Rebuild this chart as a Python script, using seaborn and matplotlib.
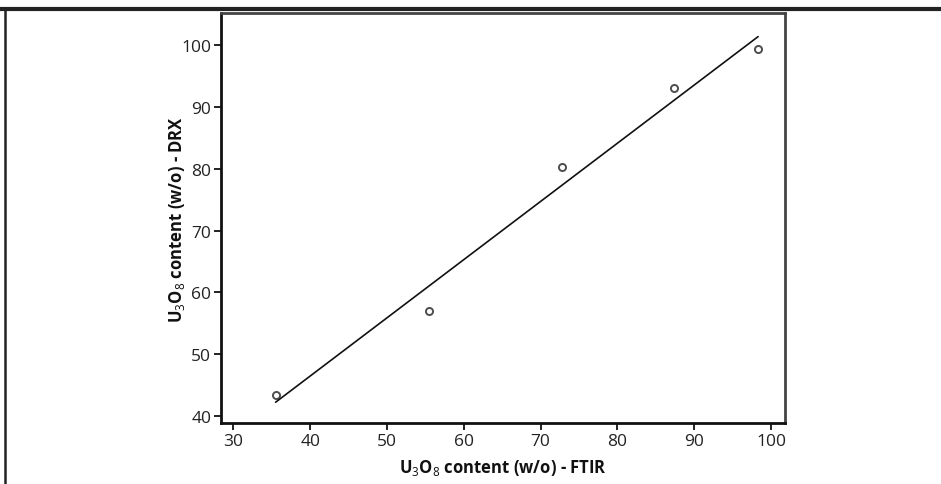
import matplotlib
matplotlib.use("Agg")
import matplotlib.pyplot as plt
import pandas as pd
import seaborn as sns
from matplotlib.lines import Line2D

# U3O8 content
ftir = [35.5, 55.5, 72.8, 87.3, 98.3]
drx = [43.5, 57.0, 80.3, 93.0, 99.3]

x_ticks = [30, 40, 50, 60, 70, 80, 90, 100]
y_ticks = [40, 50, 60, 70, 80, 90, 100]


def main() -> None:
    sns.set_theme(style="white")
    plt.rcParams["font.family"] = ["Open Sans", "DejaVu Sans"]
    plt.rcParams["mathtext.fontset"] = "custom"
    plt.rcParams["mathtext.rm"] = "Open Sans"
    plt.rcParams["mathtext.bf"] = "Open Sans:bold"

    df = pd.DataFrame({"FTIR": ftir, "DRX": drx})

    fig = plt.figure(figsize=(9.41, 4.85), dpi=100)
    ax = fig.add_axes([0.2349, 0.1258, 0.5993, 0.8454])

    sns.regplot(
        data=df,
        x="FTIR",
        y="DRX",
        ax=ax,
        ci=None,
        truncate=True,
        scatter_kws={"s": 26, "facecolors": "white", "edgecolors": "#222222", "linewidths": 1.4},
        line_kws={"color": "#111111", "linewidth": 1.2},
    )

    ax.set_xlim(28.4, 101.8)
    ax.set_ylim(38.9, 105.2)
    ax.set_xticks(x_ticks)
    ax.set_yticks(y_ticks)
    ax.tick_params(axis="both", direction="out", length=5, width=1.3, color="#111111",
                   labelsize=12.5, labelcolor="#222222", pad=2,
                   bottom=True, left=True)

    for side in ["left", "bottom"]:
        ax.spines[side].set_color("#111111")
        ax.spines[side].set_linewidth(2.0)
    for side in ["top", "right"]:
        ax.spines[side].set_color("#444444")
        ax.spines[side].set_linewidth(2.0)

    ax.set_xlabel(r"U$_3$O$_8$ content (w/o) - FTIR", fontsize=12, fontweight="bold",
                  color="#111111", labelpad=6)
    ax.set_ylabel(r"U$_3$O$_8$ content (w/o) - DRX", fontsize=12, fontweight="bold",
                  color="#111111", labelpad=-4)

    # outer frame lines of the figure panel
    fig.add_artist(Line2D([0.0, 1.0], [1 - 9.5 / 485, 1 - 9.5 / 485], transform=fig.transFigure,
                          color="#222222", linewidth=3))
    fig.add_artist(Line2D([5 / 941, 5 / 941], [0.0, 1 - 9.5 / 485], transform=fig.transFigure,
                          color="#222222", linewidth=1.8))

    fig.savefig("out.png", dpi=100)
    plt.close(fig)


if __name__ == "__main__":
    main()
